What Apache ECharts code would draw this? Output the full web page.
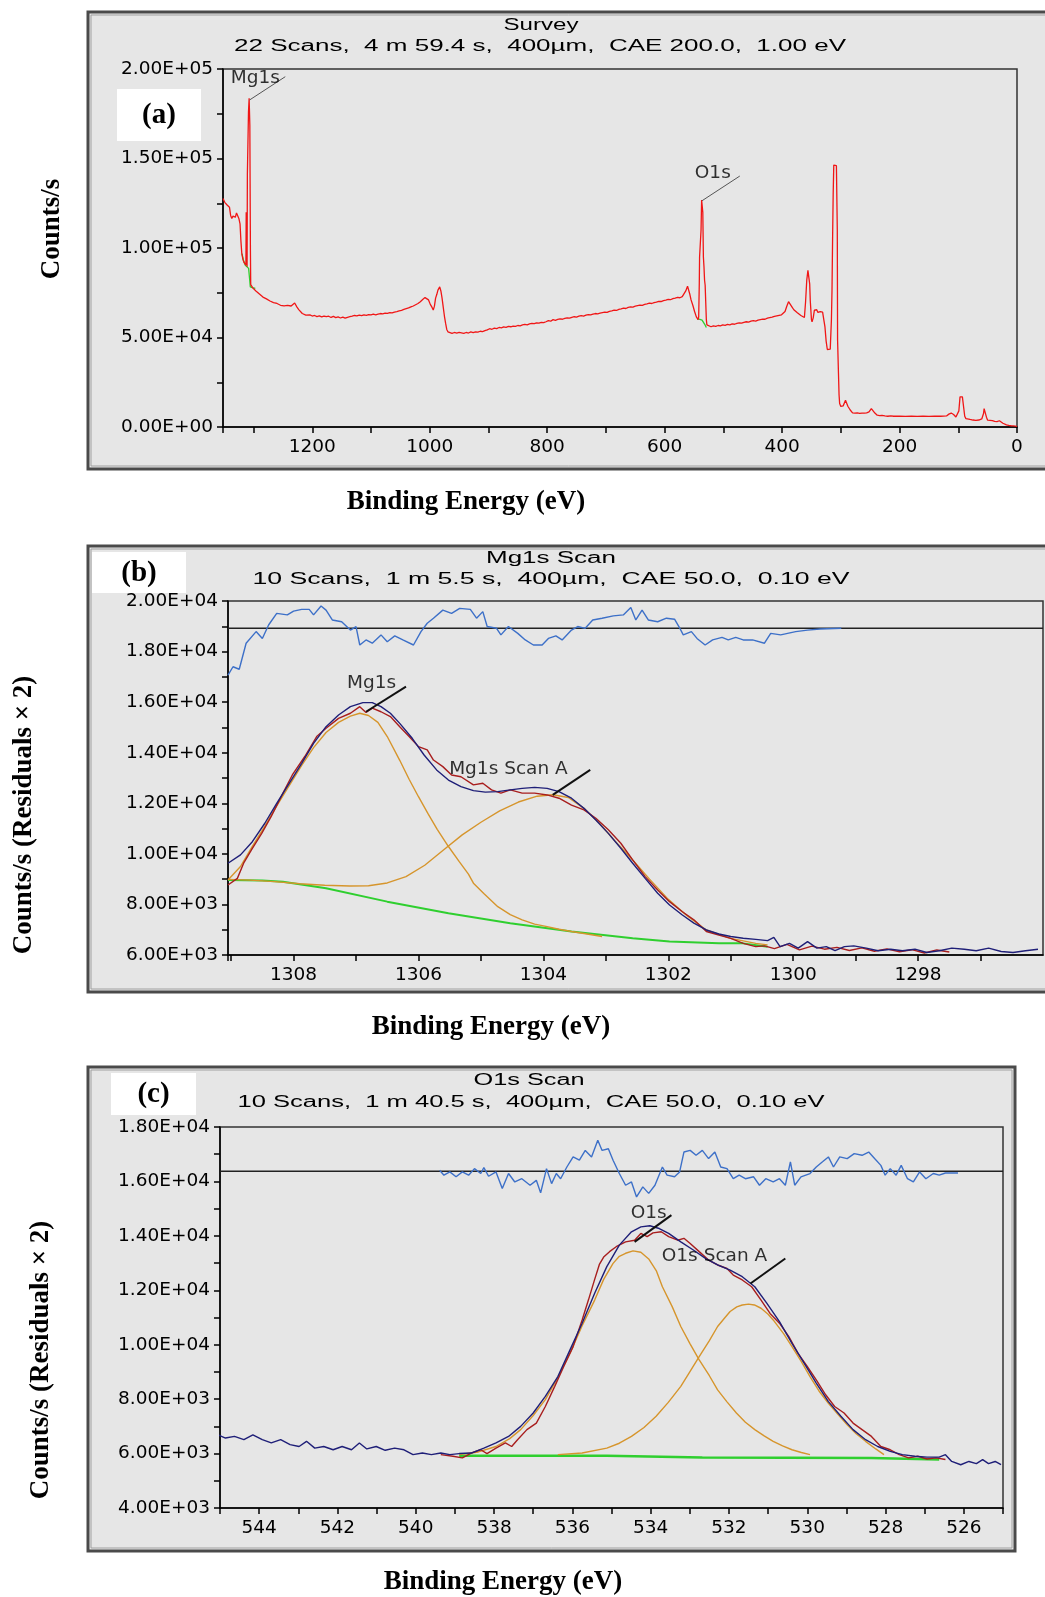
<!DOCTYPE html>
<html>
<head>
<meta charset="utf-8">
<script src="https://cdn.jsdelivr.net/npm/echarts@6/dist/echarts.min.js"></script>
<style>
html, body { margin: 0; padding: 0; background: #fff; }
#chart { width: 1045px; height: 1597px; }
</style>
</head>
<body>
<div id="chart"></div>
<script>
// (a) survey spectrum: [binding energy eV, counts/s]
var surveyCounts = [
  [1352,127700],[1349,125500],[1347,126200],[1345,124000],[1343,124600],[1341,122800],[1339,118200],[1337,116500],
  [1335,117800],[1333,118600],[1331,117200],[1329,119600],[1327,119000],[1325,116500],[1323,113500],[1321.5,104000],
  [1320,97000],[1318,93500],[1316,91800],[1314,90800],[1313,90500],[1312.5,120000],[1311.5,120300],[1311,89500],
  [1310.5,141000],[1309.2,141500],[1308.6,176000],[1307.5,183600],[1306.8,183000],[1306.3,168500],[1305.8,168000],
  [1305.3,98000],[1304.8,79500],[1303.5,78400],[1301,77600],[1298,76800],[1296,76000],[1293,75200],[1290,74300],
  [1287,73900],[1284,72600],[1281,72900],[1278,71600],[1275,71200],[1272,70400],[1269,70100],[1266,69500],[1263,69700],
  [1260,69000],[1257,68600],[1254,68000],[1251,68300],[1248,67700],[1245,67400],[1242,67900],[1239,67500],[1236,67600],
  [1233,68100],[1230,69300],[1228,68700],[1226,67000],[1223,65600],[1220,64600],[1217,63400],[1214,62800],[1211,62500],
  [1208,62200],[1204,62600],[1200,62000],[1196,62300],[1192,61700],[1188,62100],[1184,61500],[1180,62000],[1176,61600],
  [1172,61900],[1168,61200],[1164,61800],[1160,61100],[1156,61500],[1152,60900],[1148,61400],[1144,60800],[1140,61300],
  [1136,61600],[1132,61900],[1128,62300],[1124,62100],[1120,62500],[1116,62200],[1112,62600],[1108,62400],[1104,62800],
  [1100,62600],[1096,63000],[1092,62700],[1088,63100],[1084,63400],[1080,63200],[1076,63600],[1072,63500],[1068,63900],
  [1064,63700],[1060,64200],[1056,64500],[1052,64900],[1048,65200],[1044,65700],[1040,66100],[1036,66500],[1032,67100],
  [1028,67600],[1024,68300],[1020,69000],[1016,70000],[1012,71200],[1008,72300],[1005,72600],[1002,71000],[999,68500],
  [996,66800],[994,65300],[992,67500],[990,72000],[988,74000],[986,76500],[983,78300],[981,76000],[979,72000],[977,67000],
  [975,62000],[973,58000],[971,54500],[969,53200],[966,52600],[962,52300],[958,52800],[954,52500],[950,52900],[946,52600],
  [942,52300],[938,52800],[934,52500],[930,53100],[926,52700],[922,53200],[918,53000],[914,53500],[910,53300],[906,53800],
  [902,54300],[898,54900],[894,54600],[890,55200],[886,55000],[882,55600],[878,55400],[874,55900],[870,55700],[866,56200],
  [862,56000],[858,56400],[854,56200],[850,56700],[846,56500],[842,57000],[838,57300],[834,57100],[830,57600],[826,57900],
  [822,57700],[818,58200],[814,58000],[810,58500],[806,58300],[802,58800],[798,59400],[794,59100],[790,60000],[786,59600],
  [782,60100],[778,60400],[774,60200],[770,60700],[766,61000],[762,60800],[758,61300],[754,61600],[750,61400],[746,61900],
  [742,62200],[738,62000],[734,62500],[730,62800],[726,62600],[722,63100],[718,63400],[714,63200],[710,63600],[706,63900],
  [702,64200],[698,64000],[694,64600],[690,64900],[686,65300],[682,65100],[678,65700],[674,66000],[670,66400],[666,66200],
  [662,66800],[658,67100],[654,67000],[650,67500],[646,67800],[642,68100],[638,68000],[634,68500],[630,68800],[626,69200],
  [622,69000],[618,69500],[614,69800],[610,70200],[606,70100],[602,70600],[598,70900],[594,71300],[590,71100],[586,71700],
  [582,72000],[578,72400],[574,72200],[570,72800],[567,73300],[564,76000],[561,78700],[559,78200],[557,74000],[555,71000],
  [552,68000],[549,64500],[546,61500],[544,60400],[543,60000],[542,61500],[541,80000],[540.5,95000],[540,96000],[539,94000],
  [538,110000],[537,126800],[536,126500],[535,120000],[534,95000],[533,89500],[532,82000],[531,79200],[530,79000],[529,60000],
  [528,57000],[527,56500],[525,56300],[521,56000],[517,56500],[513,56200],[509,56700],[505,56500],[501,57000],[497,56800],
  [493,57300],[489,57100],[485,57600],[481,57400],[477,57900],[473,58200],[469,58000],[465,58500],[461,58800],[457,58600],
  [453,59100],[449,59400],[445,59200],[441,59700],[437,60000],[433,60300],[429,60200],[425,60800],[421,61100],[417,61400],
  [413,61800],[409,62100],[405,62400],[401,62700],[398,63000],[395,64500],[392,67500],[389,70000],[386,68500],[383,67000],
  [380,65500],[377,64800],[374,63800],[371,63200],[368,62300],[365,61700],[362,61200],[360,70000],[358,82000],[356,87500],
  [355,87000],[353,80000],[352,70500],[350,60000],[349,58700],[347,61000],[345,65300],[343,64600],[341,65500],[339,64000],
  [337,63800],[335,64500],[333,64900],[331,64200],[329,60000],[327,55900],[325,48000],[323,43300],[320,43300],[318,43500],
  [316,60000],[315,76400],[314,105000],[313,130000],[312,146300],[309,146300],[307.5,146000],[306,110000],[305.5,48500],
  [304,30000],[303,18000],[302,13100],[300,11500],[298,11200],[296,11800],[294,12500],[292,14900],[290,14500],[288,11600],
  [286,11200],[284,9500],[282,8500],[280,7900],[276,7800],[272,7900],[268,7600],[264,7800],[260,7700],[256,7900],[252,8400],
  [248,10300],[245,9600],[242,7800],[238,6600],[234,6400],[230,6500],[225,6200],[220,6000],[215,6200],[210,6000],[200,6100],
  [190,5900],[180,6000],[170,5900],[160,6000],[150,5900],[140,6000],[130,6000],[120,6200],[116,7200],[112,7800],[108,7000],
  [104,5600],[101,5400],[99,9000],[97,16800],[93,16800],[91,16000],[89,6000],[87,4700],[84,4300],[80,4200],[75,3900],
  [70,3700],[65,3900],[60,4500],[57,7500],[56,10300],[54,9200],[52,5500],[50,3800],[46,3700],[42,3600],[38,3200],[34,3000],
  [30,3500],[27,3300],[24,2100],[22,1500],[18,1200],[14,900],[10,700],[6,600],[3,500],[0,400]
];
var surveyBgMg = [[1319.7,96900],[1317,93000],[1314,90400],[1311,89300],[1308.4,88600],[1306.5,82000],[1305.5,78300],[1302,77800],[1297,77400]];
var surveyBgO = [[544.8,60600],[540,60100],[536.3,59700],[532,57500],[529,55600]];

// (b) Mg1s high resolution scan
var mgResidual = [
  [1309.05,17070],[1308.97,17400],[1308.87,17300],[1308.76,18330],[1308.6,18790],[1308.5,18520],[1308.4,19050],[1308.27,19510],
  [1308.1,19450],[1308.0,19600],[1307.87,19670],[1307.75,19670],[1307.68,19450],[1307.56,19800],[1307.48,19640],[1307.38,19250],
  [1307.23,19180],[1307.09,18850],[1307.0,18990],[1306.94,18260],[1306.84,18460],[1306.74,18330],[1306.6,18660],[1306.5,18390],
  [1306.38,18620],[1306.25,18460],[1306.08,18260],[1305.96,18790],[1305.86,19120],[1305.76,19320],[1305.61,19640],[1305.47,19510],
  [1305.34,19710],[1305.17,19670],[1305.07,19320],[1304.97,19580],[1304.9,18990],[1304.75,18920],[1304.68,18660],[1304.56,18990],
  [1304.41,18720],[1304.29,18460],[1304.16,18260],[1304.02,18260],[1303.92,18520],[1303.8,18620],[1303.7,18460],[1303.55,18850],
  [1303.45,18990],[1303.33,18920],[1303.21,19250],[1303.06,19320],[1302.88,19410],[1302.72,19450],[1302.6,19740],[1302.52,19250],
  [1302.42,19640],[1302.32,19250],[1302.17,19180],[1302.03,19320],[1301.9,19280],[1301.83,18990],[1301.76,18660],[1301.63,18790],
  [1301.54,18520],[1301.41,18260],[1301.29,18460],[1301.14,18560],[1301.04,18460],[1300.92,18560],[1300.8,18460],[1300.65,18460],
  [1300.46,18330],[1300.36,18720],[1300.2,18660],[1299.96,18790],[1299.77,18850],[1299.57,18890],[1299.23,18920]
];
var mgZero = [[1309.05,18920],[1296,18920]];
var mgData = [
  [1309.05,8770],[1308.9,9030],[1308.8,9630],[1308.66,10220],[1308.51,10810],[1308.36,11470],[1308.17,12400],[1308.02,13120],
  [1307.82,13850],[1307.63,14640],[1307.48,14970],[1307.28,15360],[1307.09,15560],[1306.94,15820],[1306.84,15590],[1306.74,15760],
  [1306.6,15620],[1306.45,15430],[1306.3,15030],[1306.15,14640],[1306.0,14240],[1305.86,14110],[1305.76,13710],[1305.61,13450],
  [1305.47,13120],[1305.32,13050],[1305.12,12730],[1304.97,12790],[1304.83,12530],[1304.68,12400],[1304.53,12530],[1304.34,12400],
  [1304.14,12400],[1303.94,12330],[1303.75,12200],[1303.55,11930],[1303.35,11740],[1303.16,11410],[1302.96,10950],[1302.76,10420],
  [1302.57,9760],[1302.37,9100],[1302.17,8570],[1301.98,8110],[1301.78,7720],[1301.59,7390],[1301.39,6930],[1301.19,6790],
  [1301.0,6660],[1300.8,6460],[1300.6,6330],[1300.46,6360],[1300.3,6250],[1300.1,6420],[1299.9,6200],[1299.7,6350],[1299.5,6230],
  [1299.3,6300],[1299.1,6180],[1298.9,6280],[1298.7,6150],[1298.5,6240],[1298.3,6130],[1298.1,6210],[1297.9,6080],[1297.7,6200],
  [1297.5,6120]
];
var mgFit = [
  [1309.05,9630],[1308.85,9960],[1308.66,10480],[1308.46,11210],[1308.27,12000],[1308.07,12790],[1307.87,13580],[1307.68,14370],
  [1307.48,15030],[1307.28,15490],[1307.09,15820],[1306.89,15980],[1306.74,15980],[1306.6,15820],[1306.45,15560],[1306.3,15160],
  [1306.1,14570],[1305.91,13910],[1305.71,13320],[1305.52,12920],[1305.32,12660],[1305.12,12500],[1304.93,12440],[1304.73,12460],
  [1304.53,12530],[1304.34,12590],[1304.14,12630],[1303.94,12590],[1303.75,12460],[1303.55,12200],[1303.35,11800],[1303.16,11340],
  [1302.96,10810],[1302.76,10220],[1302.57,9630],[1302.37,9030],[1302.17,8440],[1301.98,7980],[1301.78,7590],[1301.59,7260],
  [1301.39,6990],[1301.19,6830],[1301.0,6730],[1300.8,6660],[1300.6,6620],[1300.41,6570],[1300.31,6700],[1300.21,6330],
  [1300.06,6460],[1299.92,6270],[1299.77,6530],[1299.62,6270],[1299.47,6330],[1299.33,6170],[1299.18,6330],[1299.03,6360],
  [1298.83,6270],[1298.64,6170],[1298.44,6230],[1298.25,6170],[1298.05,6230],[1297.86,6100],[1297.66,6170],[1297.46,6270],
  [1297.26,6230],[1297.07,6170],[1296.87,6270],[1296.67,6140],[1296.48,6100],[1296.28,6170],[1296.08,6230]
];
var mgPeak = [
  [1309.05,8970],[1308.85,9500],[1308.66,10300],[1308.46,11100],[1308.27,11900],[1308.07,12700],[1307.87,13500],[1307.68,14200],
  [1307.48,14800],[1307.28,15200],[1307.09,15450],[1306.94,15560],[1306.8,15470],[1306.65,15200],[1306.5,14640],[1306.3,13700],
  [1306.15,12950],[1306.0,12260],[1305.85,11600],[1305.7,10970],[1305.52,10290],[1305.35,9700],[1305.2,9200],[1305.12,8840],
  [1304.95,8420],[1304.73,7910],[1304.53,7600],[1304.34,7390],[1304.14,7220],[1303.94,7120],[1303.75,7020],[1303.55,6930],
  [1303.3,6830],[1303.06,6730]
];
var mgPeakA = [
  [1309.05,8990],[1308.7,8960],[1308.3,8900],[1307.9,8820],[1307.5,8760],[1307.1,8730],[1306.8,8740],[1306.5,8850],[1306.2,9100],
  [1305.9,9550],[1305.6,10150],[1305.3,10750],[1305.0,11250],[1304.7,11700],[1304.4,12050],[1304.1,12280],[1303.85,12340],
  [1303.6,12230],[1303.35,11800],[1303.1,11200],[1302.85,10500],[1302.57,9760],[1302.3,9000],[1302.0,8200],[1301.7,7550],
  [1301.39,6990],[1301.0,6660],[1300.6,6460],[1300.41,6400]
];
var mgBackground = [
  [1309.05,8970],[1308.5,8950],[1308.17,8900],[1307.48,8640],[1306.5,8110],[1305.52,7650],[1304.53,7260],[1303.55,6930],
  [1302.57,6660],[1301.98,6530],[1301.19,6460],[1300.8,6460],[1300.41,6330]
];

// (c) O1s high resolution scan
var oResidual = [
  [539.39,16410],[539.28,16230],[539.13,16350],[538.97,16170],[538.81,16350],[538.65,16230],[538.5,16470],[538.34,16290],
  [538.26,16510],[538.14,16190],[537.95,16350],[537.79,15740],[537.63,16290],[537.47,15980],[537.29,16100],[537.08,15860],
  [536.92,16040],[536.81,15580],[536.66,16470],[536.53,15920],[536.41,16290],[536.3,16100],[536.14,16530],[535.98,16900],
  [535.82,16780],[535.67,17140],[535.51,16900],[535.35,17510],[535.24,17140],[535.08,17200],[534.96,16780],[534.8,16290],
  [534.64,15860],[534.49,15980],[534.36,15430],[534.2,15800],[534.05,15560],[533.89,15860],[533.7,16530],[533.58,16230],
  [533.39,16170],[533.26,16350],[533.15,17080],[532.99,17140],[532.84,16960],[532.68,17140],[532.52,16840],[532.36,17080],
  [532.21,16530],[532.05,16470],[531.89,16100],[531.74,16230],[531.58,16100],[531.37,16170],[531.22,15860],[531.06,16100],
  [530.87,15980],[530.71,16100],[530.56,15860],[530.43,16720],[530.32,15860],[530.16,16170],[529.93,16290],[529.77,16530],
  [529.61,16720],[529.46,16900],[529.33,16530],[529.17,16900],[528.98,16840],[528.8,17020],[528.6,16960],[528.43,17080],
  [528.28,16840],[528.12,16590],[528.01,16230],[527.88,16470],[527.73,16230],[527.6,16590],[527.44,16100],[527.29,15980],
  [527.13,16350],[526.97,16100],[526.78,16290],[526.63,16230],[526.47,16310],[526.15,16310]
];
var oZero = [[545,16370],[525,16370]];
var oFit = [
  [545.05,6690],[544.86,6570],[544.63,6630],[544.39,6510],[544.16,6690],[543.92,6510],[543.69,6390],[543.45,6510],[543.21,6330],
  [542.98,6260],[542.79,6450],[542.58,6200],[542.35,6260],[542.11,6140],[541.88,6260],[541.64,6140],[541.44,6390],[541.25,6170],
  [541.01,6260],[540.78,6120],[540.54,6200],[540.3,6140],[540.07,5960],[539.83,6020],[539.6,5960],[539.36,6020],[539.13,5960],
  [538.89,6000],[538.58,6020],[538.26,6200],[537.95,6390],[537.63,6630],[537.32,7000],[537.0,7490],[536.69,8100],[536.37,8830],
  [536.06,9810],[535.75,10790],[535.43,11890],[535.12,12870],[534.8,13660],[534.49,14150],[534.25,14330],[534.02,14370],
  [533.78,14270],[533.54,14090],[533.23,13780],[532.91,13480],[532.6,13170],[532.29,12930],[531.97,12740],[531.66,12500],
  [531.34,12130],[531.03,11520],[530.71,10850],[530.39,10050],[530.08,9320],[529.77,8590],[529.46,7910],[529.14,7370],
  [528.83,6880],[528.51,6510],[528.2,6260],[527.88,6080],[527.57,5960],[527.25,5900],[526.94,5870],[526.63,5870],[526.47,5960],
  [526.31,5710],[526.08,5590],[525.87,5710],[525.68,5630],[525.52,5780],[525.37,5630],[525.2,5710],[525.05,5590]
];
var oData = [
  [539.36,5960],[539.05,5900],[538.81,5840],[538.58,6020],[538.34,6140],[538.18,6000],[537.95,6200],[537.71,6390],[537.55,6260],
  [537.4,6510],[537.16,6880],[536.92,7120],[536.69,7730],[536.45,8470],[536.22,9200],[535.98,9930],[535.75,10910],[535.59,11640],
  [535.43,12400],[535.31,12950],[535.2,13220],[535.05,13420],[534.88,13600],[534.64,13780],[534.41,13840],[534.25,14090],
  [534.09,13970],[533.94,14110],[533.73,14150],[533.54,13970],[533.31,13840],[533.15,13910],[532.99,13720],[532.76,13420],
  [532.52,13110],[532.29,12930],[532.05,12800],[531.89,12560],[531.66,12380],[531.42,12130],[531.18,11640],[530.95,11150],
  [530.71,10790],[530.47,10300],[530.24,9690],[530.0,9200],[529.77,8710],[529.53,8160],[529.3,7730],[529.06,7490],[528.83,7120],
  [528.6,6880],[528.36,6630],[528.12,6260],[527.88,6140],[527.65,5960],[527.41,5840],[527.18,5900],[526.94,5800],[526.71,5840],
  [526.47,5780]
];
var oPeak = [
  [538.89,5960],[538.4,6060],[537.95,6260],[537.6,6550],[537.32,6880],[537.0,7400],[536.69,7980],[536.37,8800],[536.06,9690],
  [535.75,10700],[535.43,11640],[535.2,12400],[534.96,12990],[534.8,13250],[534.64,13360],[534.45,13450],[534.25,13400],
  [534.05,13150],[533.85,12700],[533.7,12130],[533.45,11400],[533.23,10670],[533.0,10050],[532.76,9440],[532.5,8860],
  [532.29,8340],[532.05,7900],[531.81,7490],[531.58,7150],[531.34,6880],[531.1,6650],[530.87,6450],[530.63,6280],[530.39,6140],
  [530.15,6040],[529.93,5960]
];
var oPeakA = [
  [536.37,5960],[535.75,6020],[535.12,6200],[534.8,6380],[534.49,6630],[534.17,6960],[533.86,7370],[533.55,7880],[533.23,8470],
  [533.0,9000],[532.76,9560],[532.5,10150],[532.29,10670],[532.1,11000],[531.97,11220],[531.8,11390],[531.66,11460],[531.5,11490],
  [531.35,11460],[531.18,11340],[531.0,11120],[530.87,10910],[530.6,10400],[530.39,9930],[530.15,9380],[529.93,8830],[529.7,8300],
  [529.46,7850],[529.2,7420],[528.98,7060],[528.75,6730],[528.51,6450],[528.25,6170],[528.04,5960]
];
var oBackground = [
  [538.89,5920],[535.12,5920],[535.1,5860],[532.68,5860],[532.66,5840],[528.36,5840],[528.34,5780],[526.63,5780]
];

// peak annotations: [eV, counts, text] and leader lines
var surveyLabels = [[1297,194800,'Mg1s'],[518,141700,'O1s']];
var surveyLeaderMg = [[1306.7,182700],[1246,195700]];
var surveyLeaderO = [[536.3,126400],[472,140200]];
var mgLabels = [[1306.75,16760,'Mg1s'],[1304.56,13340,'Mg1s Scan A']];
var mgLeader1 = [[1306.84,15620],[1306.2,16610]];
var mgLeader2 = [[1303.85,12330],[1303.25,13320]];
var oLabels = [[534.05,14820,'O1s'],[532.37,13250,'O1s Scan A']];
var oLeader1 = [[534.41,13780],[533.47,14760]];
var oLeader2 = [[531.45,12250],[530.56,13170]];

var titles = ['Survey', 'Mg1s Scan', 'O1s Scan'];
var subtitles = [
  '22 Scans,  4 m 59.4 s,  400\u00b5m,  CAE 200.0,  1.00 eV',
  '10 Scans,  1 m 5.5 s,  400\u00b5m,  CAE 50.0,  0.10 eV',
  '10 Scans,  1 m 40.5 s,  400\u00b5m,  CAE 50.0,  0.10 eV'
];

var LBL = 'DejaVu Sans';
var SERIF = '"Liberation Serif", "Times New Roman", serif';

function sci(v) {
  if (v === 0) return '0.00E+00';
  var e = Math.floor(Math.log10(Math.abs(v)) + 1e-9);
  var m = v / Math.pow(10, e);
  return m.toFixed(2) + 'E+' + (e < 10 ? '0' + e : e);
}
function every(step, fn) {
  return function (v) {
    var k = Math.round(v / step);
    return Math.abs(v - k * step) < 1e-6 ? fn(v) : '';
  };
}

var measureCtx = document.createElement('canvas').getContext('2d');
function txt(x, y, str, font, w, extra) {
  measureCtx.font = font;
  var s = w ? w / measureCtx.measureText(str).width : 1;
  var el = {
    type: 'text', x: x, y: y, scaleX: s, z: 10,
    style: { text: str, font: font, fill: '#000', textAlign: 'center', textVerticalAlign: 'middle' }
  };
  if (extra) for (var k in extra) el[k] = extra[k];
  return el;
}
function frame(x, y, w, h) {
  return [
    { type: 'rect', z: -20, shape: { x: x, y: y, width: w, height: h }, style: { fill: '#e6e6e6', stroke: '#4a4a4a', lineWidth: 3 } },
    { type: 'rect', z: -19, shape: { x: x + 3, y: y + 3, width: w - 6, height: h - 6 }, style: { fill: 'none', stroke: '#a0a0a0', lineWidth: 1 } }
  ];
}
function tag(x, y, w, h, str) {
  return [
    { type: 'rect', z: -5, shape: { x: x, y: y, width: w, height: h }, style: { fill: '#fff' } },
    txt(x + w / 2, y + h / 2 + 1, str, 'bold 29px ' + SERIF)
  ];
}

var graphics = [].concat(
  frame(88, 12, 1000, 457),
  frame(88, 546, 1000, 446),
  frame(88, 1067, 927, 484),
  tag(117, 89, 84, 52, '(a)'),
  tag(92, 552, 94, 41, '(b)'),
  tag(111, 1073, 85, 42, '(c)'),
  [
    txt(541, 26, titles[0], '16px "Liberation Sans"', 75),
    txt(540, 47, subtitles[0], '16px "Liberation Sans"', 612),
    txt(551, 559, titles[1], '16px "Liberation Sans"', 130),
    txt(551, 580, subtitles[1], '16px "Liberation Sans"', 597),
    txt(529, 1081, titles[2], '16px "Liberation Sans"', 111),
    txt(531, 1103, subtitles[2], '16px "Liberation Sans"', 587),
    txt(466, 502, 'Binding Energy (eV)', 'bold 27px ' + SERIF),
    txt(491, 1027, 'Binding Energy (eV)', 'bold 27px ' + SERIF),
    txt(503, 1582, 'Binding Energy (eV)', 'bold 27px ' + SERIF),
    txt(52, 229, 'Counts/s', 'bold 27px ' + SERIF, 0, { rotation: Math.PI / 2 }),
    txt(24, 815, 'Counts/s (Residuals \u00d7 2)', 'bold 27px ' + SERIF, 0, { rotation: Math.PI / 2 }),
    txt(41, 1360, 'Counts/s (Residuals \u00d7 2)', 'bold 27px ' + SERIF, 0, { rotation: Math.PI / 2 })
  ]
);

var grids = [
  { left: 223, top: 69, width: 794, height: 358 },
  { left: 228, top: 601, width: 815, height: 354 },
  { left: 220, top: 1127, width: 783, height: 381 }
].map(function (g) {
  g.show = true; g.borderColor = '#333'; g.borderWidth = 1.5; g.backgroundColor = 'transparent';
  return g;
});

function xAx(i, min, max, step, labelStep, extra) {
  var a = {
    gridIndex: i, type: 'value', inverse: true, min: min, max: max, interval: step,
    axisLine: { onZero: false, lineStyle: { color: '#000', width: 1.5 } },
    axisTick: { length: 6, lineStyle: { color: '#000', width: 1.5 } },
    axisLabel: { formatter: every(labelStep, function (v) { return String(Math.round(v)); }),
                 fontFamily: LBL, fontSize: 18.5, color: '#000', margin: 11 },
    splitLine: { show: false }
  };
  if (extra) for (var k in extra) a.axisLabel[k] = extra[k];
  return a;
}
function yAx(i, min, max, step, labelStep) {
  return {
    gridIndex: i, type: 'value', min: min, max: max, interval: step,
    axisLine: { onZero: false, lineStyle: { color: '#000', width: 1.5 } },
    axisTick: { length: 6, lineStyle: { color: '#000', width: 1.5 } },
    axisLabel: { formatter: every(labelStep, sci), fontFamily: LBL, fontSize: 18.5, color: '#000', margin: 10 },
    splitLine: { show: false }
  };
}

function ln(data, gi, color, w, z) {
  return {
    type: 'line', data: data, xAxisIndex: gi, yAxisIndex: gi, symbol: 'none', silent: true,
    lineStyle: { color: color, width: w }, itemStyle: { color: color }, z: z || 2
  };
}
function notes(data, gi) {
  return {
    type: 'scatter', data: data, xAxisIndex: gi, yAxisIndex: gi, symbolSize: 1, silent: true, z: 6,
    itemStyle: { color: 'rgba(0,0,0,0)' },
    label: { show: true, position: 'inside', formatter: function (p) { return p.value[2]; },
             fontFamily: LBL, fontSize: 18.5, color: '#000' }
  };
}

var RED = '#f01616', GREEN = '#2fcf2f', BLUE = '#3d70c8', NAVY = '#1f1f78',
    DRED = '#a81e1e', ORANGE = '#d6952c';

var series = [
  ln(surveyBgMg, 0, GREEN, 1.3, 2),
  ln(surveyBgO, 0, GREEN, 1.3, 2),
  ln(surveyCounts, 0, RED, 1.3, 3),
  ln(surveyLeaderMg, 0, '#555', 1, 4),
  ln(surveyLeaderO, 0, '#555', 1, 4),
  notes(surveyLabels, 0),

  ln(mgBackground, 1, GREEN, 2, 2),
  ln(mgPeak, 1, ORANGE, 1.4, 3),
  ln(mgPeakA, 1, ORANGE, 1.4, 3),
  ln(mgData, 1, DRED, 1.4, 4),
  ln(mgFit, 1, NAVY, 1.4, 5),
  ln(mgZero, 1, '#222', 1.5, 4),
  ln(mgResidual, 1, BLUE, 1.4, 5),
  ln(mgLeader1, 1, '#111', 2, 6),
  ln(mgLeader2, 1, '#111', 2, 6),
  notes(mgLabels, 1),

  ln(oBackground, 2, GREEN, 2.5, 2),
  ln(oPeak, 2, ORANGE, 1.4, 3),
  ln(oPeakA, 2, ORANGE, 1.4, 3),
  ln(oData, 2, DRED, 1.4, 4),
  ln(oFit, 2, NAVY, 1.4, 5),
  ln(oZero, 2, '#222', 1.5, 4),
  ln(oResidual, 2, BLUE, 1.4, 5),
  ln(oLeader1, 2, '#111', 2, 6),
  ln(oLeader2, 2, '#111', 2, 6),
  notes(oLabels, 2)
];

var chart = echarts.init(document.getElementById('chart'), null, { renderer: 'canvas' });
chart.setOption({
  animation: false,
  backgroundColor: '#fff',
  grid: grids,
  xAxis: [
    xAx(0, 0, 1352, 100, 200),
    xAx(1, 1296, 1309.05, 1, 2, { showMinLabel: false }),
    xAx(2, 525, 545, 1, 2)
  ],
  yAxis: [
    yAx(0, 0, 200000, 25000, 50000),
    yAx(1, 6000, 20000, 1000, 2000),
    yAx(2, 4000, 18000, 1000, 2000)
  ],
  graphic: { elements: graphics },
  series: series
});
</script>
</body>
</html>
